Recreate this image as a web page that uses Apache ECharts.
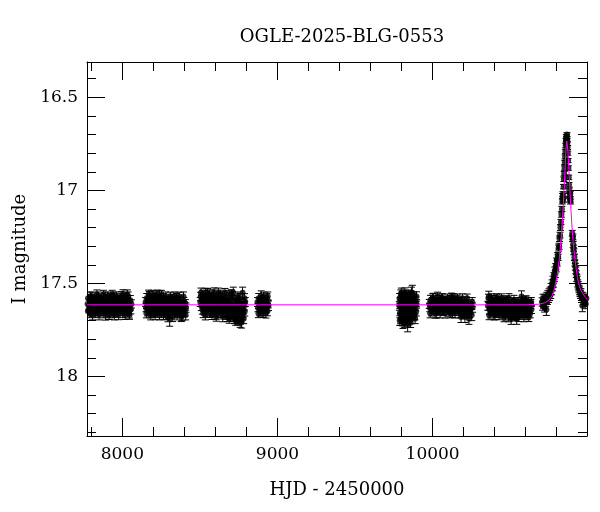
<!DOCTYPE html>
<html><head><meta charset="utf-8">
<script src="https://cdn.jsdelivr.net/npm/echarts@6/dist/echarts.min.js"></script>
<style>html,body{margin:0;padding:0;background:#fff}#c{width:600px;height:512px}</style>
</head><body><div id="c"></div>
<script>
const chartTitle = 'OGLE-2025-BLG-0553';
const xName = 'HJD - 2450000';
const yName = 'I magnitude';
const xRange = [7772, 10995];
const yRange = [16.31, 18.32];
const xMajor = [8000, 9000, 10000];
const xMinor = [7800, 8200, 8400, 8600, 8800, 9200, 9400, 9600, 9800, 10200, 10400, 10600, 10800];
const yMajor = [16.5, 17, 17.5, 18];
const yMinor = [16.4, 16.6, 16.7, 16.8, 16.9, 17.1, 17.2, 17.3, 17.4, 17.6, 17.7, 17.8, 17.9, 18.1, 18.2, 18.3];

// observations: [HJD-2450000, I mag, error]
const season2018 = [[7776,17.61,.024],[7779,17.58,.022],[7782,17.64,.025],[7786,17.62,.023],[7789,17.59,.026],[7792,17.66,.024],[7796,17.60,.022],[7799,17.63,.027],[7803,17.57,.023],[7806,17.62,.025],[7810,17.65,.024],[7813,17.60,.022],[7817,17.63,.026],[7820,17.58,.023],[7824,17.61,.028],[7827,17.66,.024],[7831,17.62,.022],[7834,17.59,.025],[7838,17.64,.023],[7841,17.61,.026],[7845,17.57,.024],[7848,17.63,.022],[7852,17.60,.025],[7855,17.65,.023],[7859,17.62,.027],[7862,17.58,.024],[7866,17.64,.022],[7869,17.61,.026],[7873,17.59,.023],[7876,17.66,.025],[7880,17.62,.024],[7883,17.60,.022],[7887,17.63,.026],[7890,17.57,.023],[7894,17.61,.025],[7897,17.65,.024],[7901,17.62,.022],[7904,17.59,.027],[7908,17.64,.023],[7911,17.60,.025],[7915,17.67,.024],[7918,17.62,.022],[7922,17.58,.026],[7925,17.63,.023],[7929,17.61,.025],[7932,17.65,.024],[7936,17.59,.022],[7939,17.62,.026],[7943,17.57,.023],[7946,17.64,.025],[7950,17.61,.024],[7953,17.66,.022],[7957,17.60,.027],[7960,17.63,.023],[7964,17.58,.025],[7967,17.62,.024],[7971,17.65,.022],[7974,17.60,.026],[7978,17.63,.023],[7981,17.59,.025],[7985,17.64,.024],[7988,17.61,.022],[7992,17.57,.026],[7995,17.63,.023],[7999,17.60,.025],[8002,17.66,.024],[8006,17.62,.022],[8009,17.58,.027],[8013,17.64,.023],[8016,17.61,.025],[8020,17.59,.024],[8023,17.65,.022],[8027,17.62,.026],[8030,17.60,.023],[8034,17.63,.025],[8037,17.57,.024],[8041,17.61,.022],[8044,17.66,.026],[8048,17.62,.023],[8051,17.59,.025],[8055,17.64,.024],[8058,17.61,.022],
  [7778,17.65,.025],[7794,17.57,.024],[7808,17.67,.026],[7822,17.60,.023],[7836,17.56,.025],[7850,17.67,.026],[7864,17.61,.024],[7878,17.56,.023],[7892,17.67,.027],[7906,17.57,.024],[7920,17.66,.025],[7934,17.56,.023],[7948,17.67,.026],[7962,17.57,.024],[7976,17.67,.025],[7990,17.61,.023],[8004,17.56,.026],[8018,17.67,.024],[8032,17.56,.025],[8046,17.67,.023]];
const season2019 = [[8150,17.60,.024],[8153,17.63,.022],[8157,17.58,.026],[8160,17.62,.023],[8164,17.65,.025],[8167,17.60,.024],[8171,17.63,.022],[8174,17.57,.027],[8178,17.61,.023],[8181,17.66,.025],[8185,17.62,.024],[8188,17.59,.022],[8192,17.64,.026],[8195,17.61,.023],[8199,17.58,.025],[8202,17.63,.024],[8206,17.66,.022],[8209,17.60,.027],[8213,17.62,.023],[8216,17.57,.025],[8220,17.64,.024],[8223,17.61,.022],[8227,17.59,.026],[8230,17.65,.023],[8234,17.62,.025],[8237,17.60,.024],[8240,17.57,.030],[8244,17.63,.023],[8247,17.61,.025],[8251,17.66,.024],[8254,17.59,.022],[8258,17.62,.026],[8261,17.64,.023],[8265,17.58,.025],[8268,17.61,.024],[8272,17.65,.022],[8275,17.60,.027],[8279,17.63,.023],[8282,17.67,.025],[8286,17.62,.024],[8289,17.59,.022],[8293,17.64,.026],[8296,17.61,.023],[8300,17.66,.025],[8305,17.69,.040],[8308,17.62,.024],[8312,17.58,.022],[8315,17.63,.026],[8319,17.60,.023],[8322,17.65,.025],[8326,17.62,.024],[8329,17.59,.022],[8333,17.64,.027],[8336,17.61,.023],[8340,17.66,.025],[8343,17.60,.024],[8347,17.63,.022],[8350,17.58,.026],[8354,17.62,.023],[8357,17.65,.025],[8361,17.61,.024],[8364,17.59,.022],[8368,17.64,.026],[8371,17.62,.023],[8375,17.60,.025],[8378,17.66,.024],[8382,17.63,.022],[8385,17.67,.030],[8389,17.61,.023],[8392,17.64,.025],[8396,17.60,.024],[8399,17.62,.022],[8403,17.65,.026],[8406,17.61,.023],[8410,17.63,.025],
  [8155,17.66,.025],[8169,17.56,.024],[8183,17.67,.026],[8197,17.56,.023],[8211,17.67,.025],[8225,17.56,.024],[8239,17.67,.026],[8252,17.56,.023],[8266,17.67,.025],[8280,17.57,.024],[8294,17.68,.026],[8310,17.57,.023],[8324,17.68,.025],[8338,17.57,.024],[8352,17.67,.026],[8366,17.57,.023],[8380,17.68,.025],[8394,17.57,.024],[8408,17.67,.026]];
const season2019b = [[8502,17.60,.024],[8505,17.57,.022],[8509,17.62,.026],[8512,17.59,.023],[8516,17.64,.025],[8519,17.56,.024],[8523,17.61,.022],[8526,17.58,.027],[8530,17.63,.023],[8533,17.60,.025],[8537,17.55,.024],[8540,17.62,.022],[8544,17.65,.026],[8547,17.59,.023],[8551,17.61,.025],[8554,17.57,.024],[8558,17.63,.022],[8561,17.60,.027],[8565,17.66,.023],[8568,17.58,.025],[8572,17.62,.024],[8575,17.59,.022],[8579,17.64,.026],[8582,17.61,.023],[8586,17.56,.025],[8589,17.63,.024],[8593,17.60,.022],[8596,17.65,.027],[8600,17.62,.023],[8603,17.58,.025],[8607,17.61,.024],[8610,17.67,.022],[8614,17.63,.026],[8617,17.59,.023],[8621,17.62,.025],[8624,17.57,.024],[8628,17.64,.022],[8631,17.60,.027],[8635,17.66,.023],[8638,17.61,.025],[8642,17.58,.024],[8645,17.63,.022],[8649,17.65,.026],[8652,17.60,.023],[8656,17.62,.025],[8659,17.57,.024],[8663,17.64,.022],[8666,17.61,.027],[8670,17.67,.023],[8673,17.62,.025],[8677,17.59,.024],[8680,17.65,.022],[8684,17.61,.026],[8687,17.56,.023],[8691,17.63,.025],[8694,17.68,.024],[8698,17.60,.022],[8701,17.64,.027],[8705,17.62,.023],[8708,17.57,.025],[8712,17.66,.024],[8715,17.55,.030],[8719,17.63,.022],[8722,17.69,.026],[8726,17.61,.023],[8729,17.65,.025],[8733,17.59,.024],[8736,17.67,.022],[8740,17.62,.027],[8743,17.70,.023],[8747,17.64,.025],[8750,17.60,.024],[8754,17.66,.022],[8757,17.58,.026],[8761,17.68,.023],[8764,17.63,.025],[8768,17.71,.030],[8771,17.61,.024],[8775,17.55,.030],[8778,17.66,.022],[8782,17.69,.026],[8785,17.62,.023],[8789,17.65,.025],[8792,17.60,.024],
  [8507,17.55,.025],[8521,17.66,.024],[8535,17.67,.026],[8549,17.55,.023],[8563,17.56,.025],[8577,17.67,.024],[8591,17.55,.026],[8605,17.68,.023],[8619,17.55,.025],[8633,17.56,.024],[8647,17.68,.026],[8661,17.55,.023],[8675,17.68,.025],[8689,17.69,.024],[8703,17.56,.026],[8717,17.68,.023],[8731,17.70,.025],[8745,17.57,.024],[8759,17.71,.026],[8773,17.67,.023],[8787,17.58,.025]];
const season2020 = [[8871,17.60,.024],[8875,17.63,.022],[8879,17.58,.026],[8883,17.62,.023],[8887,17.65,.025],[8891,17.60,.024],[8895,17.57,.030],[8899,17.63,.022],[8903,17.61,.026],[8907,17.66,.023],[8911,17.59,.025],[8915,17.62,.024],[8919,17.64,.022],[8923,17.60,.027],[8927,17.63,.023],[8931,17.58,.025],[8935,17.65,.024],[8939,17.61,.022],[8942,17.62,.026],[8877,17.66,.024],[8893,17.65,.025],[8909,17.57,.023],[8925,17.66,.026],[8937,17.57,.024]];
const season2022 = [[9785,17.62,.024],[9787,17.58,.026],[9789,17.66,.025],[9791,17.60,.023],[9793,17.69,.027],[9795,17.56,.025],[9797,17.63,.024],[9799,17.67,.026],[9801,17.59,.023],[9803,17.64,.025],[9805,17.70,.028],[9807,17.57,.024],[9809,17.71,.032],[9811,17.61,.025],[9813,17.66,.023],[9815,17.58,.026],[9817,17.68,.025],[9819,17.62,.024],[9821,17.55,.026],[9823,17.65,.023],[9825,17.60,.025],[9827,17.69,.027],[9829,17.63,.024],[9831,17.57,.025],[9833,17.67,.026],[9835,17.61,.023],[9837,17.64,.025],[9839,17.72,.040],[9841,17.70,.028],[9843,17.62,.025],[9845,17.56,.024],[9847,17.66,.026],[9849,17.60,.023],[9851,17.68,.025],[9853,17.63,.024],[9855,17.58,.026],[9857,17.65,.025],[9859,17.61,.023],[9861,17.69,.027],[9863,17.55,.030],[9865,17.64,.024],[9867,17.60,.025],[9869,17.55,.040],[9871,17.62,.023],[9873,17.58,.025],[9875,17.66,.024],[9877,17.61,.026],[9879,17.64,.025],[9882,17.59,.023],[9885,17.67,.025],[9888,17.62,.024],[9891,17.60,.026],[9894,17.65,.025],[9897,17.61,.023],
  [9788,17.70,.026],[9798,17.55,.025],[9808,17.66,.027],[9818,17.71,.026],[9828,17.56,.024],[9838,17.67,.025],[9848,17.58,.026],[9858,17.71,.027],[9868,17.67,.025],[9878,17.57,.024],[9887,17.69,.026],[9896,17.57,.025]];
const season2023 = [[9978,17.61,.024],[9982,17.63,.022],[9986,17.59,.026],[9990,17.62,.023],[9994,17.65,.025],[9998,17.60,.024],[10002,17.63,.022],[10006,17.58,.027],[10010,17.62,.023],[10014,17.64,.025],[10018,17.60,.024],[10022,17.62,.022],[10026,17.66,.026],[10030,17.61,.023],[10034,17.59,.025],[10038,17.63,.024],[10042,17.61,.022],[10046,17.64,.027],[10050,17.60,.023],[10054,17.62,.025],[10058,17.58,.024],[10062,17.63,.022],[10066,17.61,.026],[10070,17.65,.023],[10074,17.60,.025],[10078,17.62,.024],[10082,17.59,.022],[10086,17.63,.027],[10090,17.61,.023],[10094,17.64,.025],[10098,17.60,.024],[10102,17.62,.022],[10106,17.65,.026],[10110,17.61,.023],[10114,17.59,.025],[10118,17.63,.024],[10121,17.58,.028],[10125,17.62,.027],[10129,17.66,.023],[10133,17.61,.025],[10137,17.58,.024],[10141,17.63,.022],[10145,17.60,.026],[10149,17.64,.023],[10153,17.62,.025],[10157,17.59,.024],[10161,17.63,.022],[10165,17.61,.027],[10169,17.65,.023],[10173,17.60,.025],[10178,17.62,.024],[10183,17.68,.030],[10188,17.60,.026],[10193,17.63,.023],[10198,17.66,.025],[10203,17.61,.024],[10208,17.68,.030],[10213,17.63,.022],[10218,17.60,.026],[10223,17.66,.023],[10228,17.62,.025],[10234,17.69,.030],[10240,17.64,.024],[10246,17.61,.022],[10252,17.67,.030],[10258,17.63,.025],
  [9984,17.66,.025],[10000,17.58,.024],[10016,17.66,.026],[10032,17.57,.023],[10048,17.66,.025],[10064,17.58,.024],[10080,17.66,.026],[10096,17.58,.023],[10112,17.66,.025],[10128,17.58,.024],[10144,17.66,.026],[10160,17.58,.023],[10176,17.66,.025],[10192,17.58,.024],[10206,17.65,.026],[10222,17.58,.023],[10238,17.66,.025],[10255,17.60,.024]];
const season2024 = [[10356,17.62,.024],[10360,17.58,.022],[10362,17.57,.028],[10366,17.64,.025],[10370,17.61,.023],[10374,17.66,.026],[10378,17.60,.024],[10382,17.63,.022],[10386,17.59,.025],[10390,17.65,.023],[10394,17.62,.027],[10398,17.60,.024],[10402,17.67,.025],[10406,17.61,.022],[10410,17.63,.026],[10414,17.58,.023],[10418,17.64,.025],[10422,17.66,.024],[10426,17.61,.022],[10430,17.63,.027],[10434,17.59,.023],[10438,17.65,.025],[10442,17.62,.024],[10446,17.60,.022],[10450,17.66,.026],[10454,17.63,.023],[10458,17.61,.025],[10462,17.64,.024],[10466,17.59,.022],[10470,17.67,.027],[10474,17.62,.023],[10478,17.65,.025],[10482,17.60,.024],[10486,17.63,.022],[10490,17.68,.026],[10494,17.61,.023],[10498,17.64,.025],[10502,17.66,.024],[10506,17.69,.030],[10510,17.62,.022],[10514,17.65,.026],[10518,17.60,.023],[10522,17.67,.025],[10526,17.63,.024],[10530,17.68,.022],[10534,17.61,.027],[10538,17.66,.023],[10542,17.69,.030],[10546,17.63,.025],[10550,17.60,.024],[10554,17.65,.022],[10558,17.62,.026],[10562,17.67,.023],[10566,17.61,.025],[10570,17.64,.024],[10573,17.57,.030],[10577,17.63,.022],[10581,17.60,.026],[10585,17.66,.023],[10589,17.62,.025],[10593,17.64,.024],[10597,17.59,.022],[10601,17.65,.027],[10605,17.61,.023],[10609,17.67,.025],[10613,17.63,.024],[10617,17.60,.022],[10621,17.65,.026],[10625,17.62,.023],[10629,17.66,.025],[10633,17.61,.024],[10637,17.64,.022],
  [10364,17.67,.025],[10380,17.58,.024],[10396,17.67,.026],[10412,17.58,.023],[10428,17.67,.025],[10444,17.58,.024],[10460,17.68,.026],[10476,17.59,.023],[10492,17.58,.025],[10508,17.67,.024],[10524,17.59,.026],[10540,17.66,.023],[10556,17.68,.025],[10572,17.60,.024],[10588,17.68,.026],[10604,17.59,.023],[10620,17.68,.025],[10636,17.60,.024]];
const season2025 = [[10706,17.60,.022],[10709,17.62,.024],[10712,17.58,.022],[10715,17.61,.023],[10718,17.59,.022],[10721,17.63,.024],[10725,17.58,.022],[10729,17.60,.023],[10733,17.64,.032],[10736,17.57,.022],[10740,17.59,.023],[10743,17.56,.021],[10747,17.58,.022],[10750,17.55,.021],[10754,17.57,.022],[10757,17.54,.020],[10761,17.56,.021],[10764,17.52,.020],[10767,17.54,.021],[10770,17.50,.019],[10773,17.52,.020],[10776,17.48,.019],[10779,17.50,.020],[10782,17.46,.018],[10785,17.47,.019],[10788,17.43,.018],[10791,17.45,.018],[10794,17.41,.017],[10797,17.42,.018],[10800,17.38,.017],[10803,17.39,.017],[10806,17.35,.016],[10809,17.36,.017],[10812,17.31,.016],[10815,17.30,.016],[10818,17.26,.015],[10821,17.24,.015],[10824,17.20,.015],[10827,17.17,.014],[10830,17.13,.014],[10833,17.10,.014],[10836,17.06,.013],[10838,17.03,.013],[10840,17.02,.013],[10842,17.05,.013],[10844,16.98,.012],[10846,16.94,.012],[10848,16.91,.012],[10850,16.88,.012],[10852,16.85,.011],[10854,16.82,.011],[10856,16.79,.011],[10858,16.76,.011],[10860,16.73,.010],[10862,16.71,.010],[10863,16.74,.010],[10864,16.72,.010],[10866,16.70,.010],[10867,16.73,.010],[10868,16.75,.010],[10870,16.77,.011],[10871,16.80,.011],[10873,16.84,.011],[10875,16.88,.012],[10877,16.93,.012],[10879,16.97,.012],[10881,17.00,.013],[10883,17.03,.013],[10885,17.05,.013],[10887,17.02,.013],[10889,17.06,.013],[10900,17.23,.015],[10902,17.26,.015],[10904,17.25,.015],[10906,17.29,.016],[10908,17.31,.016],[10910,17.33,.016],[10914,17.36,.017],[10917,17.39,.017],[10920,17.41,.018],[10923,17.43,.018],[10926,17.45,.018],[10929,17.47,.019],[10932,17.48,.019],[10935,17.50,.019],[10938,17.51,.020],[10941,17.52,.020],[10944,17.53,.020],[10947,17.54,.021],[10950,17.55,.021],[10953,17.56,.021],[10956,17.55,.021],[10959,17.57,.022],[10962,17.58,.022],[10965,17.62,.032],[10968,17.57,.022],[10972,17.59,.022],[10976,17.58,.022],[10980,17.60,.023],[10984,17.59,.022],[10987,17.61,.026],[10991,17.58,.022]];

// model light curve: [HJD-2450000, I mag]
const modelCurve = [[7772,17.615],[10600,17.615],[10680,17.612],[10720,17.605],[10750,17.59],[10770,17.565],[10785,17.53],[10800,17.47],[10812,17.40],[10822,17.32],[10832,17.22],[10840,17.11],[10847,17.00],[10853,16.89],[10858,16.80],[10862,16.75],[10865,16.735],[10868,16.745],[10872,16.79],[10877,16.87],[10883,16.97],[10890,17.08],[10897,17.18],[10905,17.27],[10914,17.35],[10925,17.42],[10938,17.49],[10952,17.53],[10968,17.555],[10985,17.575],[10995,17.585]];

const observations = [].concat(season2018, season2019, season2019b, season2020, season2022, season2023, season2024, season2025);

const FONT = 'DejaVu Serif';
const chart = echarts.init(document.getElementById('c'), null, {renderer: 'canvas'});

function fmt(v) { return String(v); }
function xAx(pos, vals, len, withLine, withLabel) {
  return {
    type: 'value', position: pos, min: xRange[0], max: xRange[1],
    axisLine: {show: withLine, onZero: false, lineStyle: {color: '#000', width: 1}},
    axisTick: {show: true, inside: true, length: len, customValues: vals, lineStyle: {color: '#000', width: 1}},
    axisLabel: withLabel ? {show: true, customValues: vals, formatter: fmt, margin: 10, color: '#000', fontFamily: FONT, fontSize: 17} : {show: false},
    splitLine: {show: false},
    name: withLabel ? xName : '', nameLocation: 'middle', nameGap: 45,
    nameTextStyle: {color: '#000', fontFamily: FONT, fontSize: 18}
  };
}
function yAx(pos, vals, len, withLine, withLabel) {
  return {
    type: 'value', position: pos, inverse: true, min: yRange[0], max: yRange[1],
    axisLine: {show: withLine, onZero: false, lineStyle: {color: '#000', width: 1}},
    axisTick: {show: true, inside: true, length: len, customValues: vals, lineStyle: {color: '#000', width: 1}},
    axisLabel: withLabel ? {show: true, customValues: vals, formatter: fmt, margin: 9, color: '#000', fontFamily: FONT, fontSize: 17} : {show: false},
    splitLine: {show: false},
    name: withLabel ? yName : '', nameLocation: 'middle', nameGap: 58,
    nameTextStyle: {color: '#000', fontFamily: FONT, fontSize: 18}
  };
}

chart.setOption({
  animation: false,
  backgroundColor: '#fff',
  title: {text: chartTitle, left: 337, top: 23, textAlign: 'center',
    textStyle: {color: '#000', fontFamily: FONT, fontSize: 18, fontWeight: 'normal'}},
  grid: {left: 87, top: 62, width: 500, height: 374, containLabel: false},
  xAxis: [
    xAx('bottom', xMajor, 18, true, true),
    xAx('bottom', xMinor, 9, false, false),
    xAx('top', xMajor, 18, true, false),
    xAx('top', xMinor, 9, false, false)
  ],
  yAxis: [
    yAx('left', yMajor, 18, true, true),
    yAx('left', yMinor, 9, false, false),
    yAx('right', yMajor, 18, true, false),
    yAx('right', yMinor, 9, false, false)
  ],
  series: [
    {
      type: 'custom', xAxisIndex: 0, yAxisIndex: 0, clip: true, z: 2,
      data: observations,
      encode: {x: 0, y: 1},
      renderItem: function (params, api) {
        const t = api.value(0), m = api.value(1), e = api.value(2);
        const a = api.coord([t, m - e]);
        const b = api.coord([t, m + e]);
        const w = 3.5;
        const st = {stroke: '#000', lineWidth: 1};
        return {type: 'group', children: [
          {type: 'line', shape: {x1: a[0], y1: a[1], x2: b[0], y2: b[1]}, style: st},
          {type: 'line', shape: {x1: a[0] - w, y1: a[1], x2: a[0] + w, y2: a[1]}, style: st},
          {type: 'line', shape: {x1: b[0] - w, y1: b[1], x2: b[0] + w, y2: b[1]}, style: st}
        ]};
      }
    },
    {
      type: 'scatter', xAxisIndex: 0, yAxisIndex: 0, z: 3,
      data: observations.map(function (d) { return [d[0], d[1]]; }),
      symbol: 'circle', symbolSize: 6,
      itemStyle: {color: '#000'}, clip: true
    },
    {
      type: 'line', xAxisIndex: 0, yAxisIndex: 0, z: 4,
      data: modelCurve, showSymbol: false, smooth: false,
      lineStyle: {color: '#ff00ff', width: 1}, clip: true
    }
  ]
});
</script>
</body></html>
